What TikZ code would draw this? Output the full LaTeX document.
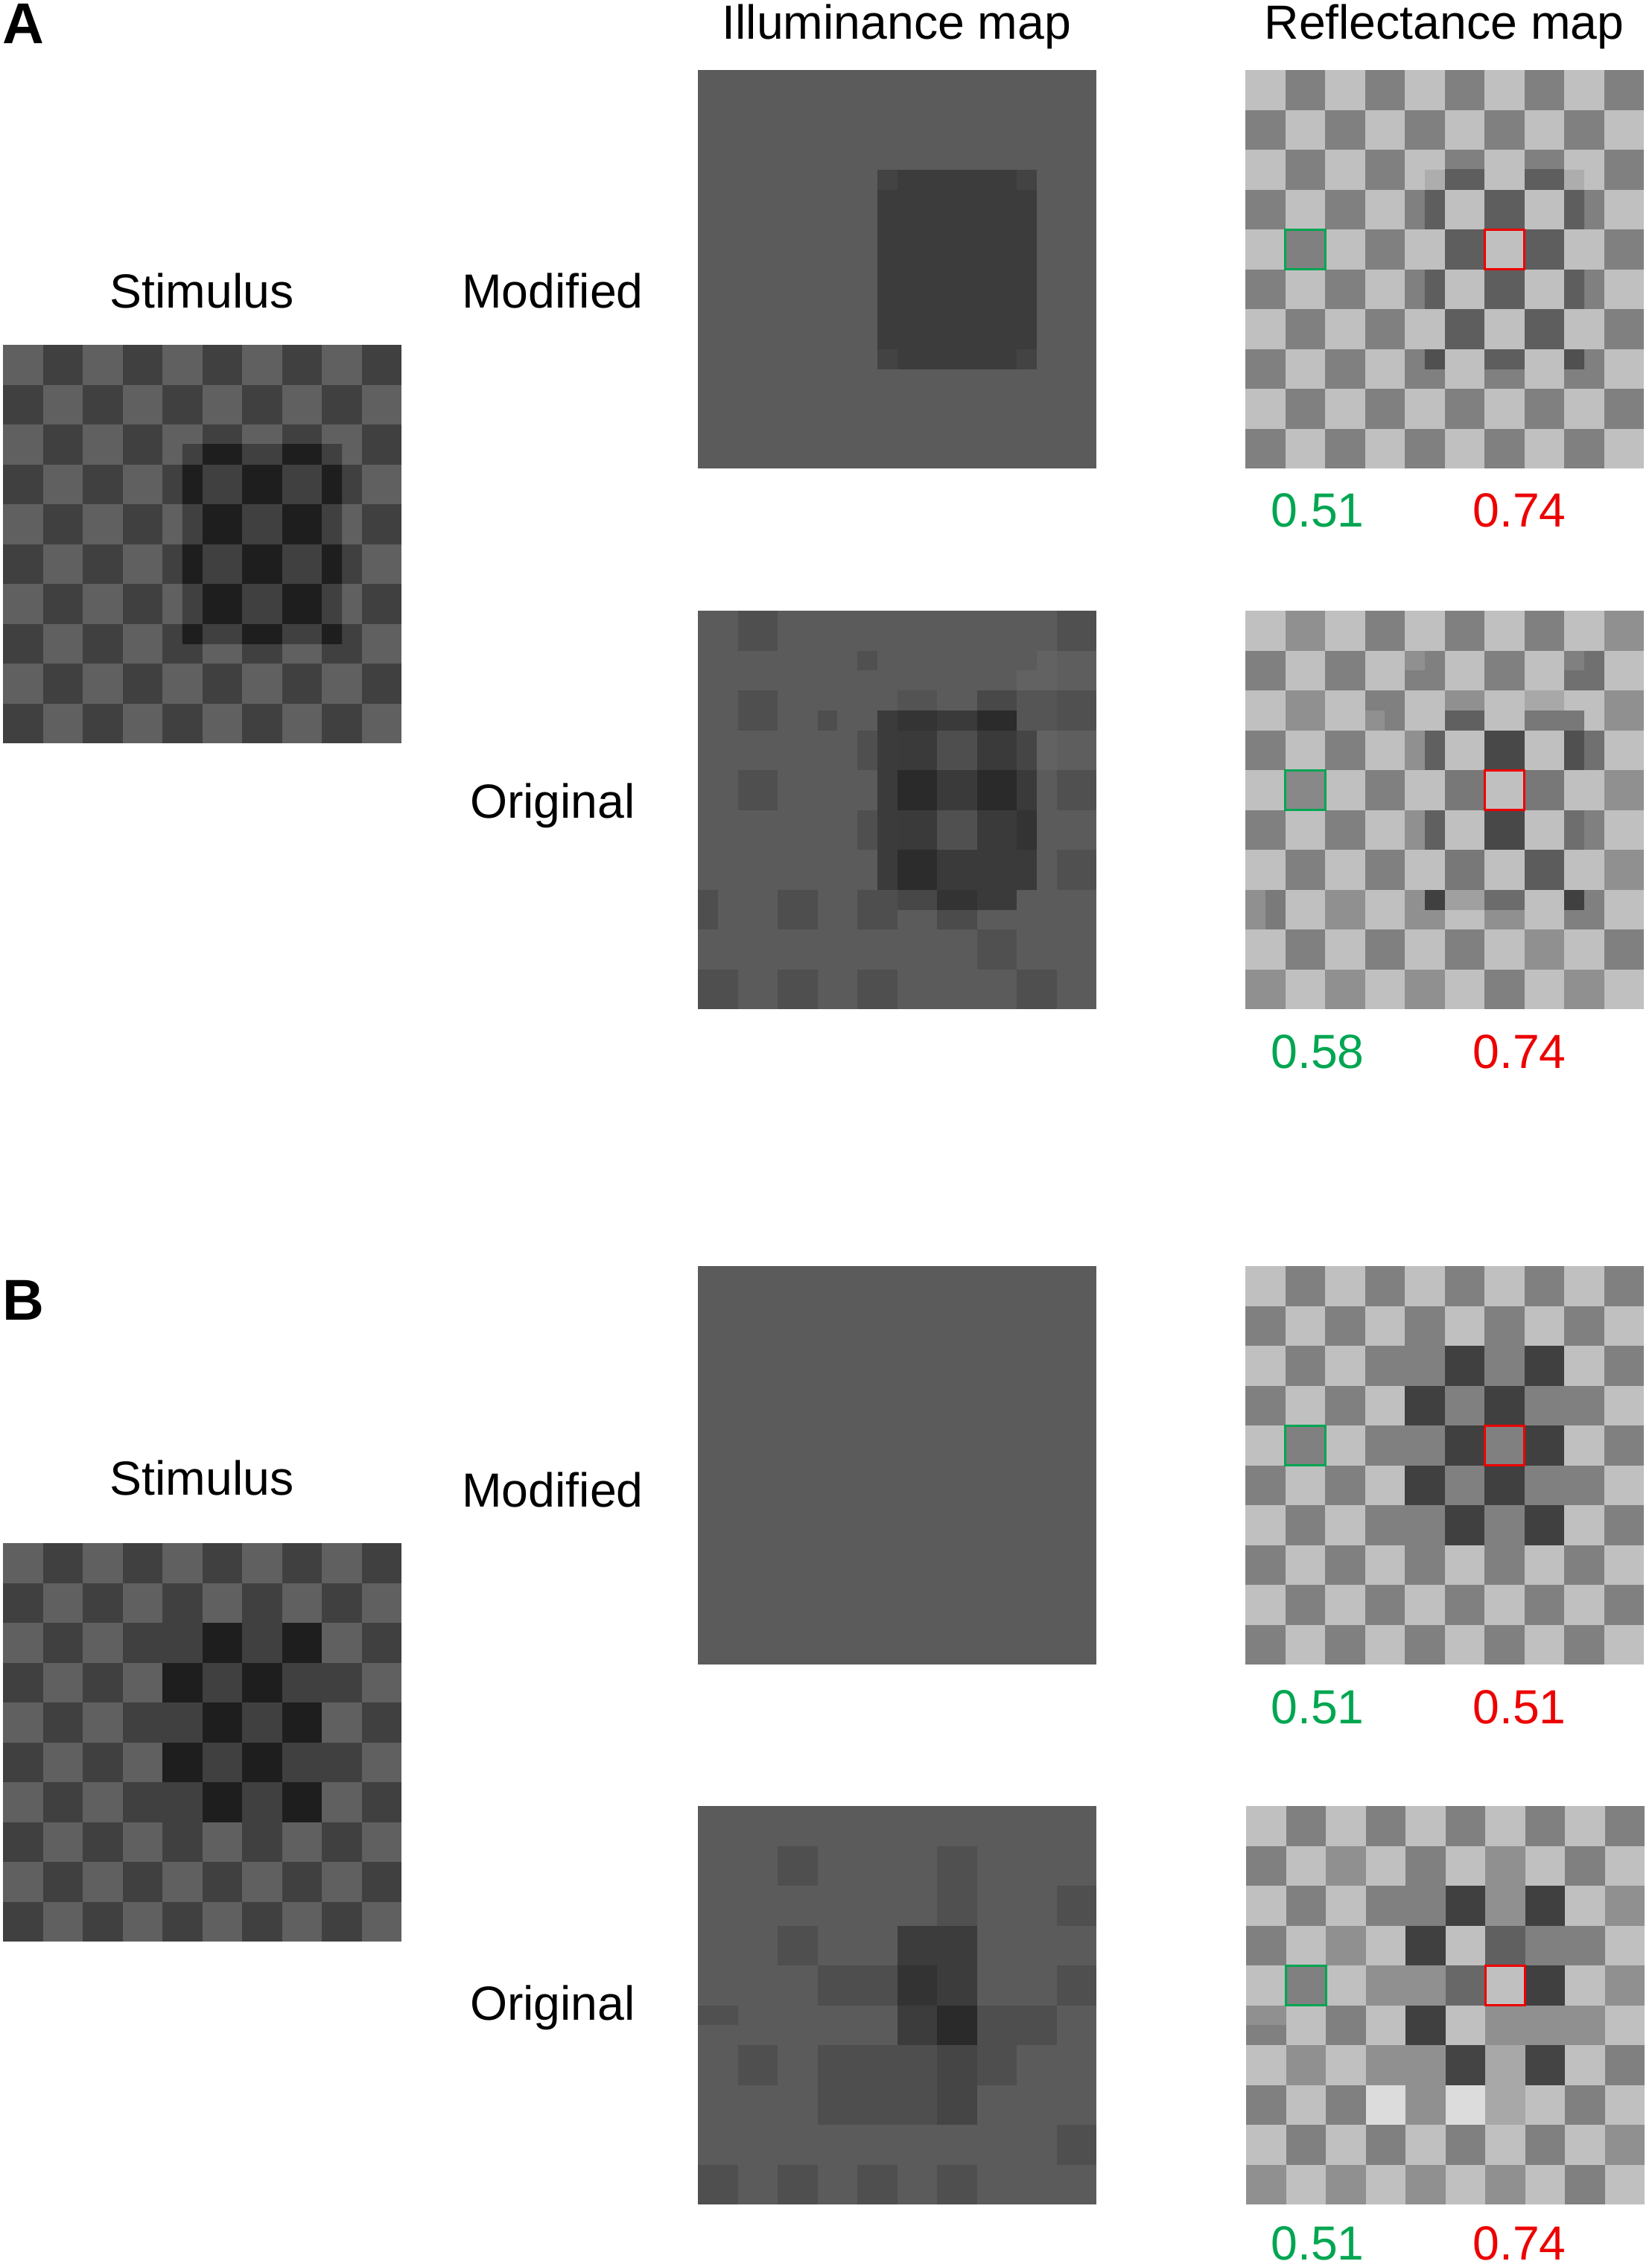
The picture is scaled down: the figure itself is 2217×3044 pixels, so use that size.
\documentclass[tikz,border=0pt]{standalone}
\usepackage{fontspec}
\setmainfont{Liberation Sans}
\definecolor{mygreen}{RGB}{0,166,81}
\definecolor{myred}{RGB}{237,0,0}
\tikzset{
 gv/.style={fill={rgb,255:red,#1;green,#1;blue,#1}},
 cellgrid/.style={x=0.535cm,y=-0.535cm},
 lbl/.style={font=\fontsize{18.3}{22}\selectfont, anchor=base, inner sep=0pt},
 gnum/.style={lbl, text=mygreen},
 rnum/.style={lbl, text=myred},
 panellbl/.style={font=\fontsize{22}{26}\selectfont\bfseries, anchor=base west, inner sep=0pt},
 gbox/.style={draw=mygreen, line width=0.85pt},
 rbox/.style={draw=myred, line width=0.85pt},
}
% checker cells: rows #1..#2, cols #3..#4, light #5, dark #6
\newcommand\checkcells[6]{%
 \foreach \rr in {#1,...,#2}{\foreach \cc in {#3,...,#4}{%
   \pgfmathtruncatemacro\pp{mod(\rr+\cc,2)}%
   \ifnum\pp=0 \def\vv{#5}\else\def\vv{#6}\fi
   \fill[gv=\vv] (\cc,\rr) rectangle ++(1,1);}}}
% full matrix of grey values
\newcommand\gridrows[1]{%
 \foreach \rowvals [count=\rr from 0] in {#1}{%
   \foreach \vv [count=\cc from 0] in \rowvals{%
     \fill[gv=\vv] (\cc,\rr) rectangle ++(1,1);}}}
\newcommand\patch[5]{\fill[gv=#1] (#2,#3) rectangle (#4,#5);}
\begin{document}
\begin{tikzpicture}[x=0.01cm,y=-0.01cm]
\useasboundingbox (0,0) rectangle (2217,3044);
\fill[white] (0,0) rectangle (2217,3044);

% ---------------- Panel A ----------------
\node[panellbl] (labA) at (3,58) {A};
\node[lbl] (hIll) at (1204,52) {Illuminance map};
\node[lbl] (hRef) at (1939,52) {Reflectance map};
\node[lbl] (stimA) at (271,413) {Stimulus};
\node[lbl] (modA) at (742,413) {Modified};
\node[lbl] (origA) at (742,1098) {Original};
\node[gnum] (nA1g) at (1769,707) {0.51};
\node[rnum] (nA1r) at (2040,707) {0.74};
\node[gnum] (nA2g) at (1769,1434) {0.58};
\node[rnum] (nA2r) at (2040,1434) {0.74};

% A stimulus
\begin{scope}[shift={(4,463)},cellgrid]
 \checkcells{0}{9}{0}{9}{96}{64}
 \begin{scope}
  \clip (4.5,2.5) rectangle (8.5,7.5);
  \checkcells{2}{7}{4}{8}{64}{30}
 \end{scope}
\end{scope}

% A illuminance modified
\begin{scope}[shift={(937,94)},cellgrid]
 \patch{91}{0}{0}{10}{10}
 \patch{60}{4.5}{2.5}{8.5}{7.5}
 \patch{67}{4.5}{2.5}{5}{3}
 \patch{67}{8}{2.5}{8.5}{3}
 \patch{67}{4.5}{7}{5}{7.5}
 \patch{67}{8}{7}{8.5}{7.5}
\end{scope}

% A reflectance modified
\begin{scope}[shift={(1672,94)},cellgrid]
 \checkcells{0}{9}{0}{9}{192}{128}
 \begin{scope}
  \clip (4.5,2.5) rectangle (8.5,7.5);
  \checkcells{2}{7}{4}{8}{192}{94}
 \end{scope}
 \patch{173}{4.5}{2.5}{5}{3}
 \patch{173}{8}{2.5}{8.5}{3}
 \patch{80}{4.5}{7}{5}{7.5}
 \patch{80}{8}{7}{8.5}{7.5}
 \draw[gbox] (1,4) rectangle (2,5);
 \draw[rbox] (6,4) rectangle (7,5);
\end{scope}

% A illuminance original
\begin{scope}[shift={(937,820)},cellgrid]
 \patch{91}{0}{0}{10}{10}
 \patch{79}{1}{0}{2}{1}
 \patch{80}{9}{0}{10}{1}
 \patch{80}{4}{1}{4.5}{1.5}
 \patch{94}{9}{1}{10}{2}
 \patch{98}{8.5}{1}{9}{2}
 \patch{98}{8}{1.5}{8.5}{2}
 \patch{79}{1}{2}{2}{3}
 \patch{78}{3}{2.5}{3.5}{3}
 \patch{83}{5}{2}{6}{2.5}
 \patch{72}{7}{2}{8}{2.5}
 \patch{85}{8}{2}{9}{3}
 \patch{80}{9}{2}{10}{3}
 \patch{59}{4.5}{2.5}{5}{3}
 \patch{52}{5}{2.5}{6}{3}
 \patch{58}{6}{2.5}{7}{3}
 \patch{43}{7}{2.5}{8}{3}
 % row 3
 \patch{79}{4}{3}{4.5}{4}
 \patch{59}{4.5}{3}{5}{4}
 \patch{58}{5}{3}{6}{4}
 \patch{78}{6}{3}{7}{4}
 \patch{58}{7}{3}{8}{4}
 \patch{69}{8}{3}{8.5}{4}
 \patch{98}{8.5}{3}{9}{4}
 \patch{94}{9}{3}{10}{4}
 % row 4
 \patch{79}{1}{4}{2}{5}
 \patch{59}{4.5}{4}{5}{5}
 \patch{42}{5}{4}{6}{5}
 \patch{58}{6}{4}{7}{5}
 \patch{42}{7}{4}{8}{5}
 \patch{58}{8}{4}{8.5}{5}
 \patch{80}{9}{4}{10}{5}
 % row 5
 \patch{79}{4}{5}{4.5}{6}
 \patch{59}{4.5}{5}{5}{6}
 \patch{58}{5}{5}{6}{6}
 \patch{80}{6}{5}{7}{6}
 \patch{58}{7}{5}{8}{6}
 \patch{51}{8}{5}{8.5}{6}
 % row 6
 \patch{59}{4.5}{6}{5}{7}
 \patch{44}{5}{6}{6}{7}
 \patch{58}{6}{6}{7}{7}
 \patch{58}{7}{6}{8}{7}
 \patch{58}{8}{6}{8.5}{7}
 \patch{80}{9}{6}{10}{7}
 % row 7
 \patch{78}{0}{7}{0.5}{8}
 \patch{78}{2}{7}{3}{8}
 \patch{78}{4}{7}{5}{8}
 \patch{71}{5}{7}{6}{7.5}
 \patch{51}{6}{7}{7}{7.5}
 \patch{75}{6}{7.5}{7}{8}
 \patch{58}{7}{7}{8}{7.5}
 % rows 8-9
 \patch{80}{7}{8}{8}{9}
 \patch{79}{0}{9}{1}{10}
 \patch{79}{2}{9}{3}{10}
 \patch{79}{4}{9}{5}{10}
 \patch{79}{8}{9}{9}{10}
\end{scope}

% A reflectance original
\begin{scope}[shift={(1672,820)},cellgrid]
 \gridrows{{192,144,192,128,192,128,192,128,192,144},
           {128,192,128,192,128,192,128,192,112,192},
           {192,144,192,128,192,144,192,168,192,144},
           {128,192,128,192,144,192,72,192,80,192},
           {192,136,192,128,192,120,192,120,192,144},
           {128,192,128,192,144,192,72,192,110,192},
           {192,128,192,128,192,120,192,92,192,144},
           {144,192,144,192,144,160,108,192,128,192},
           {192,128,192,128,192,128,192,144,192,128},
           {144,192,144,192,144,192,128,192,144,192}}
 \patch{144}{4}{1}{4.5}{1.5}
 \patch{128}{8}{1}{8.5}{1.5}
 \patch{144}{3}{2.5}{3.5}{3}
 \patch{96}{5}{2.5}{6}{3}
 \patch{120}{7}{2.5}{8}{3}
 \patch{120}{8}{2.5}{8.5}{3}
 \patch{96}{4.5}{3}{5}{4}
 \patch{112}{8.5}{3}{9}{4}
 \patch{96}{4.5}{5}{5}{6}
 \patch{128}{8.5}{5}{9}{6}
 \patch{122}{0.5}{7}{1}{8}
 \patch{64}{4.5}{7}{5}{7.5}
 \patch{192}{5}{7.5}{6}{8}
 \patch{144}{6}{7.5}{7}{8}
 \patch{64}{8}{7}{8.5}{7.5}
 \draw[gbox] (1,4) rectangle (2,5);
 \draw[rbox] (6,4) rectangle (7,5);
\end{scope}

% ---------------- Panel B ----------------
\node[panellbl] (labB) at (3,1772) {B};
\node[lbl] (stimB) at (271,2007) {Stimulus};
\node[lbl] (modB) at (742,2023) {Modified};
\node[lbl] (origB) at (742,2712) {Original};
\node[gnum] (nB1g) at (1769,2314) {0.51};
\node[rnum] (nB1r) at (2040,2314) {0.51};
\node[gnum] (nB2g) at (1769,3034) {0.51};
\node[rnum] (nB2r) at (2040,3034) {0.74};

% B stimulus
\begin{scope}[shift={(4,2072)},cellgrid]
 \gridrows{{96,64,96,64,96,64,96,64,96,64},
           {64,96,64,96,64,96,64,96,64,96},
           {96,64,96,64,64,30,64,30,96,64},
           {64,96,64,96,30,64,30,64,64,96},
           {96,64,96,64,64,30,64,30,96,64},
           {64,96,64,96,30,64,30,64,64,96},
           {96,64,96,64,64,30,64,30,96,64},
           {64,96,64,96,64,96,64,96,64,96},
           {96,64,96,64,96,64,96,64,96,64},
           {64,96,64,96,64,96,64,96,64,96}}
\end{scope}

% B illuminance modified
\begin{scope}[shift={(937,1700)},cellgrid]
 \patch{91}{0}{0}{10}{10}
\end{scope}

% B reflectance modified
\begin{scope}[shift={(1672,1700)},cellgrid]
 \gridrows{{192,128,192,128,192,128,192,128,192,128},
           {128,192,128,192,128,192,128,192,128,192},
           {192,128,192,128,128,64,128,64,192,128},
           {128,192,128,192,64,128,64,128,128,192},
           {192,128,192,128,128,64,128,64,192,128},
           {128,192,128,192,64,128,64,128,128,192},
           {192,128,192,128,128,64,128,64,192,128},
           {128,192,128,192,128,192,128,192,128,192},
           {192,128,192,128,192,128,192,128,192,128},
           {128,192,128,192,128,192,128,192,128,192}}
 \draw[gbox] (1,4) rectangle (2,5);
 \draw[rbox] (6,4) rectangle (7,5);
\end{scope}

% B illuminance original
\begin{scope}[shift={(937,2425)},cellgrid]
 \patch{91}{0}{0}{10}{10}
 \patch{79}{2}{1}{3}{2}
 \patch{80}{6}{1}{7}{3}
 \patch{79}{9}{2}{10}{3}
 \patch{79}{2}{3}{3}{4}
 \patch{60}{5}{3}{7}{4}
 \patch{78}{3}{4}{5}{5}
 \patch{51}{5}{4}{6}{5}
 \patch{60}{6}{4}{7}{5}
 \patch{79}{9}{4}{10}{5}
 \patch{80}{0}{5}{1}{5.5}
 \patch{60}{5}{5}{6}{6}
 \patch{42}{6}{5}{7}{6}
 \patch{78}{7}{5}{9}{6}
 \patch{79}{1}{6}{2}{7}
 \patch{78}{3}{6}{6}{8}
 \patch{69}{6}{6}{7}{8}
 \patch{78}{7}{6}{8}{7}
 \patch{79}{9}{8}{10}{9}
 \patch{79}{0}{9}{1}{10}
 \patch{79}{2}{9}{3}{10}
 \patch{79}{4}{9}{5}{10}
 \patch{79}{6}{9}{7}{10}
\end{scope}

% B reflectance original
\begin{scope}[shift={(1673,2425)},cellgrid]
 \gridrows{{192,128,192,128,192,128,192,128,192,128},
           {128,192,144,192,128,192,144,192,128,192},
           {192,128,192,128,128,64,144,64,192,144},
           {128,192,144,192,64,192,96,128,128,192},
           {192,128,192,144,144,104,192,64,192,144},
           {128,192,128,192,64,192,144,144,144,192},
           {192,144,192,144,144,68,168,68,192,128},
           {128,192,128,220,144,220,168,192,128,192},
           {192,128,192,128,192,128,192,128,192,144},
           {144,192,144,192,144,192,144,192,128,192}}
 \patch{144}{0}{5}{1}{5.5}
 \draw[gbox] (1,4) rectangle (2,5);
 \draw[rbox] (6,4) rectangle (7,5);
\end{scope}
\end{tikzpicture}
\end{document}
